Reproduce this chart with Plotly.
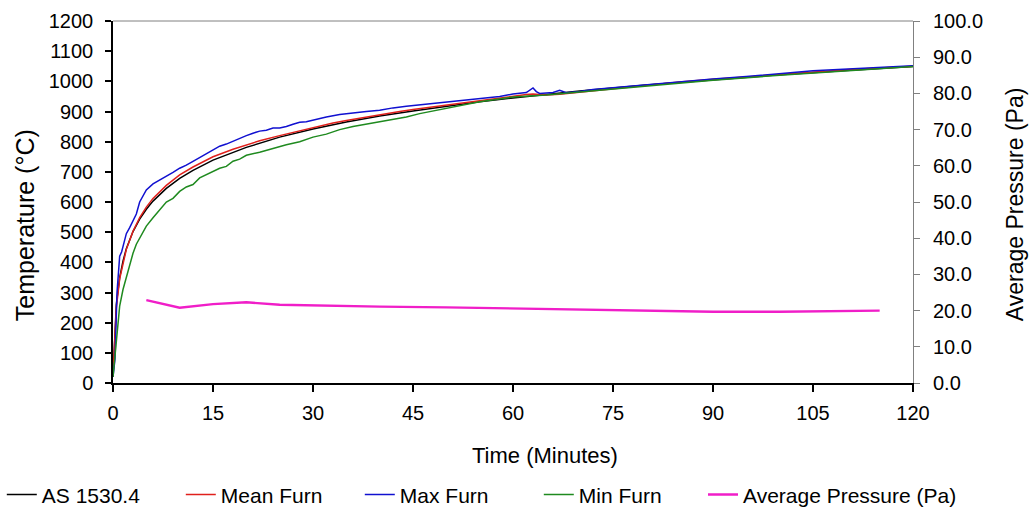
import plotly.graph_objects as go

# ---- data ----
std_t = [0, 0.5, 1, 1.5, 2, 3, 4, 5, 6, 8, 10, 12, 15, 20, 25, 30, 35, 40, 45, 50,
         55, 60, 70, 80, 90, 100, 110, 120]
std_T = [20, 261, 349, 404, 445, 502, 543, 576, 603, 645, 678, 705, 739, 781, 815, 842,
         865, 885, 902, 918, 932, 945, 968, 988, 1006, 1022, 1036, 1049]

mean_t = [0, 0.5, 1, 1.5, 2, 3, 4, 5, 6, 8, 10, 12, 15, 18, 20, 22, 25, 28, 30, 33, 35,
          38, 40, 43, 45, 48, 50, 53, 55, 58, 60, 62, 63, 65, 67, 70, 75, 80, 85, 90, 95,
          100, 105, 110, 115, 120]
mean_T = [20, 250, 345, 400, 443, 503, 548, 583, 612, 655, 690, 716, 750, 775, 790, 803,
          820, 836, 848, 862, 870, 882, 890, 900, 907, 916, 922, 931, 936, 944, 950, 956,
          958, 955, 957, 964, 975, 988, 998, 1007, 1015, 1023, 1031, 1038, 1044, 1050]

max_t = [0, 0.3, 0.6, 1, 1.3, 1.7, 2, 2.5, 3, 3.5, 4, 4.5, 5, 6, 7, 8, 9, 10, 11, 12, 13,
         14, 15, 16, 17, 18, 19, 20, 21, 22, 23, 24, 25, 26, 27, 28, 29, 30, 32, 34, 36,
         38, 40, 42, 44, 46, 48, 50, 52, 54, 56, 58, 60, 61, 62, 63, 63.5, 64, 65, 66, 67,
         68, 70, 72, 75, 78, 80, 85, 90, 95, 98, 100, 103, 105, 108, 110, 115, 120]
max_T = [20, 80, 300, 420, 435, 470, 495, 515, 540, 560, 600, 620, 640, 660, 672, 684,
         698, 712, 722, 735, 748, 760, 772, 785, 792, 802, 812, 820, 828, 835, 838, 845,
         845, 850, 858, 864, 866, 872, 882, 890, 896, 900, 904, 912, 917, 922, 926, 930,
         936, 940, 946, 950, 958, 960, 963, 978, 966, 960, 962, 963, 970, 962, 966, 973,
         979, 985, 990, 998, 1008, 1016, 1022, 1027, 1032, 1035, 1038, 1040, 1045, 1052]

min_t = [0, 0.5, 1, 1.5, 2, 2.5, 3, 3.5, 4, 4.5, 5, 6, 7, 8, 9, 10, 11, 12, 13, 14, 15,
         16, 17, 18, 19, 20, 22, 24, 26, 28, 30, 32, 34, 36, 38, 40, 42, 44, 46, 48, 50,
         55, 60, 65, 70, 75, 80, 90, 100, 110, 120]
min_T = [20, 150, 255, 310, 350, 395, 430, 460, 480, 500, 520, 548, 575, 600, 612, 635,
         650, 658, 680, 690, 702, 712, 718, 735, 742, 755, 765, 778, 790, 800, 815, 825,
         840, 850, 858, 866, 875, 882, 893, 902, 910, 932, 948, 955, 965, 975, 985, 1004,
         1020, 1035, 1049]

pres_t = [5, 10, 15, 20, 25, 30, 40, 50, 60, 70, 80, 85, 90, 100, 105, 108, 115]
pres_P = [22.9, 20.8, 21.8, 22.3, 21.6, 21.4, 21.1, 20.9, 20.6, 20.3, 20.0, 19.9, 19.7,
          19.7, 19.8, 20.0, 20.0]

x_ticks = [0, 15, 30, 45, 60, 75, 90, 105, 120]

BASE = "Liberation Sans, Arial, sans-serif"

fig = go.Figure()
fig.add_trace(go.Scatter(x=std_t, y=std_T, name="AS 1530.4", mode="lines",
                         line=dict(color="#000000", width=1.5)))
fig.add_trace(go.Scatter(x=mean_t, y=mean_T, name="Mean Furn", mode="lines",
                         line=dict(color="#e0201c", width=1.5)))
fig.add_trace(go.Scatter(x=max_t, y=max_T, name="Max Furn", mode="lines",
                         line=dict(color="#1010d0", width=1.5)))
fig.add_trace(go.Scatter(x=min_t, y=min_T, name="Min Furn", mode="lines",
                         line=dict(color="#1f8a1f", width=1.5)))
fig.add_trace(go.Scatter(x=pres_t, y=pres_P, name="Average Pressure (Pa)", mode="lines",
                         legend="legend2", yaxis="y2",
                         line=dict(color="#f01ec8", width=2.4)))

fig.update_layout(
    width=1031, height=510,
    margin=dict(l=113, r=118, t=21, b=127, autoexpand=False),
    paper_bgcolor="white", plot_bgcolor="white",
    font=dict(family=BASE, size=20, color="#000000"),
    showlegend=True,
    legend=dict(orientation="h", x=-0.139, xanchor="left", y=-0.309, yanchor="middle",
                font=dict(family=BASE, size=21), entrywidth=134, entrywidthmode="pixels",
                bgcolor="rgba(0,0,0,0)", borderwidth=0),
    legend2=dict(orientation="h", x=0.7375, xanchor="left", y=-0.309, yanchor="middle",
                 font=dict(family=BASE, size=21),
                 bgcolor="rgba(0,0,0,0)", borderwidth=0),
    xaxis=dict(range=[0, 120], tickvals=x_ticks, showgrid=False, zeroline=False,
               showline=True, linecolor="#000000", linewidth=1.5, automargin=False,
               ticks="outside", ticklen=7, tickcolor="#000000", tickwidth=1.5,
               ticklabelstandoff=4, tickfont=dict(size=20)),
    yaxis=dict(range=[0, 1200], dtick=100, showgrid=False, zeroline=False,
               showline=True, linecolor="#000000", linewidth=1.5, automargin=False,
               ticks="outside", ticklen=6, tickcolor="#000000", tickwidth=1.5,
               ticklabelstandoff=8, tickfont=dict(size=20)),
    yaxis2=dict(range=[0, 100], dtick=10, tickformat=".1f", overlaying="y", side="right",
                showgrid=False, zeroline=False, showline=True, linecolor="#808080",
                linewidth=1, automargin=False, ticks="outside", ticklen=6,
                tickcolor="#808080", ticklabelstandoff=9, tickfont=dict(size=20)),
    shapes=[dict(type="line", xref="paper", yref="paper", x0=0, x1=1, y0=1, y1=1,
                 line=dict(color="#808080", width=1))],
    annotations=[
        dict(text="Time (Minutes)", xref="paper", yref="paper", x=0.54, y=-0.199,
             xanchor="center", yanchor="middle", showarrow=False,
             font=dict(family=BASE, size=22)),
        dict(text="Temperature (°C)", xref="paper", yref="paper", x=-0.11, y=0.436,
             xanchor="center", yanchor="middle", textangle=-90, showarrow=False,
             font=dict(family=BASE, size=25)),
        dict(text="Average Pressure (Pa)", xref="paper", yref="paper", x=1.1275, y=0.494,
             xanchor="center", yanchor="middle", textangle=-90, showarrow=False,
             font=dict(family=BASE, size=23)),
    ],
)

fig.write_html("out.html", config={"displayModeBar": False},
               post_script="document.body.style.margin='0';document.body.style.overflow='hidden';")
